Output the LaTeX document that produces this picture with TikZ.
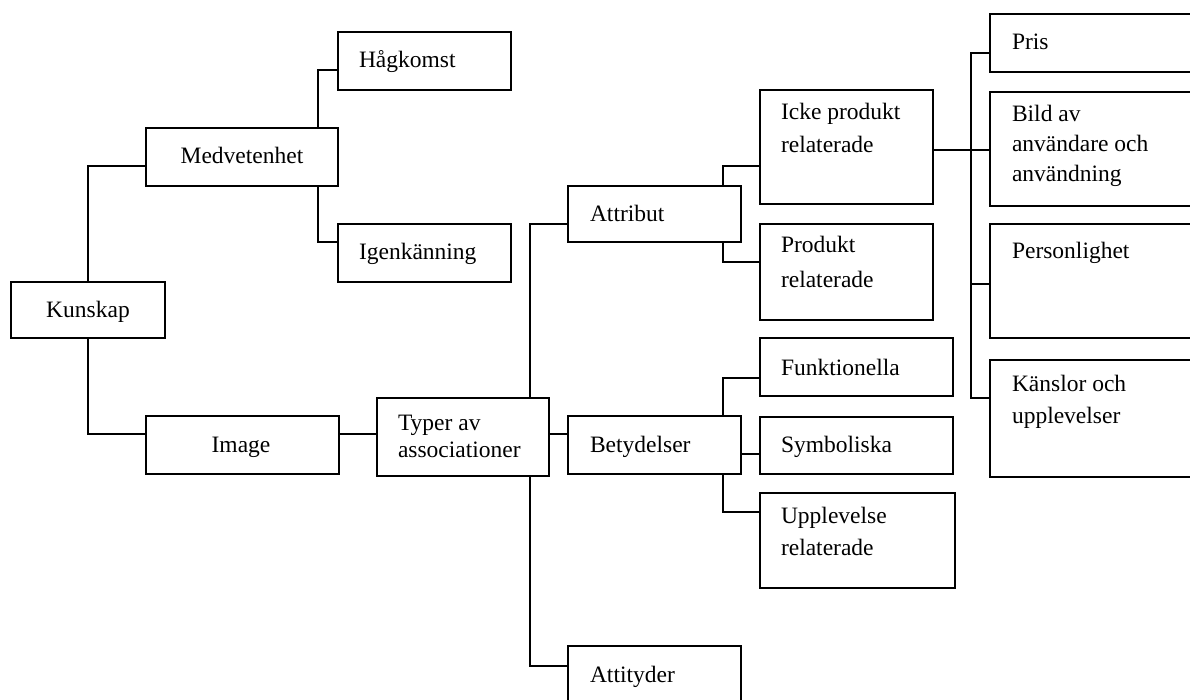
\documentclass[tikz,border=0pt]{standalone}
\usepackage{fontspec}
\setmainfont{Liberation Serif}
\newcommand\mltext[2]{\parbox[t]{220pt}{\fontsize{23.5}{#1}\selectfont\raggedright #2}}
\begin{document}
\begin{tikzpicture}[x=1pt,y=-1pt,
  box/.style={draw,line width=1.9pt,rectangle,inner sep=0pt,outer sep=0pt},
  conn/.style={line width=1.9pt},
  lbl/.style={inner sep=0pt,outer sep=0pt,font=\fontsize{23.5}{30}\selectfont,anchor=base west},
  clbl/.style={lbl,anchor=base}]
\useasboundingbox (0,0) rectangle (1190,700);
\clip (0,0) rectangle (1190,700);

% boxes
\node[box,minimum width=154pt,minimum height=56pt] (kun) at (88,310) {};
\node[box,minimum width=192pt,minimum height=58pt] (medv) at (242,157) {};
\node[box,minimum width=173pt,minimum height=58pt] (hag) at (424.5,61) {};
\node[box,minimum width=173pt,minimum height=58pt] (igen) at (424.5,253) {};
\node[box,minimum width=193pt,minimum height=58pt] (img) at (242.5,445) {};
\node[box,minimum width=172pt,minimum height=78pt] (typ) at (463,437) {};
\node[box,minimum width=173pt,minimum height=56pt] (attr) at (654.5,214) {};
\node[box,minimum width=173pt,minimum height=114pt] (icke) at (846.5,147) {};
\node[box,minimum width=173pt,minimum height=96pt] (prod) at (846.5,272) {};
\node[box,minimum width=173pt,minimum height=58pt] (bet) at (654.5,445) {};
\node[box,minimum width=193pt,minimum height=58pt] (funk) at (856.5,367) {};
\node[box,minimum width=193pt,minimum height=57pt] (sym) at (856.5,445.5) {};
\node[box,minimum width=195pt,minimum height=95pt] (upp) at (857.5,540.5) {};
\node[box,minimum width=173pt,minimum height=64pt] (att) at (654.5,678) {};
\node[box,minimum width=220pt,minimum height=58pt] (pris) at (1100,43) {};
\node[box,minimum width=220pt,minimum height=114pt] (bild) at (1100,149) {};
\node[box,minimum width=220pt,minimum height=114pt] (pers) at (1100,281) {};
\node[box,minimum width=220pt,minimum height=117pt] (kans) at (1100,418.5) {};

% texts
\node[clbl] (tkun) at (88,317) {Kunskap};
\node[clbl] (tmedv) at (242,164) {Medvetenhet};
\node[lbl] (thag) at (359,67.5) {Hågkomst};
\node[lbl] (tigen) at (359,260) {Igenkänning};
\node[clbl] (timg) at (241,452.5) {Image};
\node[lbl] (ttyp) at (398,430) {\mltext{27}{Typer av\\associationer}};
\node[lbl] (tattr) at (590,222) {Attribut};
\node[lbl] (ticke) at (781,120) {\mltext{33}{Icke produkt\\relaterade}};
\node[lbl] (tprod) at (781,253) {\mltext{34.5}{Produkt\\relaterade}};
\node[lbl] (tbet) at (590,452) {Betydelser};
\node[lbl] (tfunk) at (781,375) {Funktionella};
\node[lbl] (tsym) at (781,452) {Symboliska};
\node[lbl] (tupp) at (781,523) {\mltext{32}{Upplevelse\\relaterade}};
\node[lbl] (tatt) at (590,682.5) {Attityder};
\node[lbl] (tpris) at (1012,50) {Pris};
\node[lbl] (tbild) at (1012,122) {\mltext{30}{Bild av\\användare och\\användning}};
\node[lbl] (tpers) at (1012,259) {Personlighet};
\node[lbl] (tkans) at (1012,391) {\mltext{32}{Känslor och\\upplevelser}};

% connectors
\draw[conn] (kun.north) |- (medv.west |- 0,166);
\draw[conn] (kun.south) |- (img.west |- 0,434);
\draw[conn] (medv.north -| 318,0) |- (hag.west |- 0,70);
\draw[conn] (medv.south -| 318,0) |- (igen.west |- 0,242);
\draw[conn] (img.east |- 0,434) -- (typ.west |- 0,434);
\draw[conn] (typ.north -| 530,0) |- (attr.west |- 0,224);
\draw[conn] (typ.east |- 0,434) -- (bet.west |- 0,434);
\draw[conn] (typ.south -| 530,0) |- (att.west |- 0,666);
\draw[conn] (attr.north -| 722.7,0) |- (icke.west |- 0,166);
\draw[conn] (attr.south -| 722.7,0) |- (prod.west |- 0,262);
\draw[conn] (bet.north -| 722.7,0) |- (funk.west |- 0,378);
\draw[conn] (bet.east |- 0,454) -- (sym.west |- 0,454);
\draw[conn] (bet.south -| 722.7,0) |- (upp.west |- 0,512);
\coordinate (bus) at (970.7,0);
\draw[conn] (icke.east |- 0,150) -- (bild.west |- 0,150);
\draw[conn] (pris.west |- 0,53) -| (bus |- 0,398) -- (kans.west |- 0,398);
\draw[conn] (bus |- 0,284) -- (pers.west |- 0,284);
\end{tikzpicture}
\end{document}
